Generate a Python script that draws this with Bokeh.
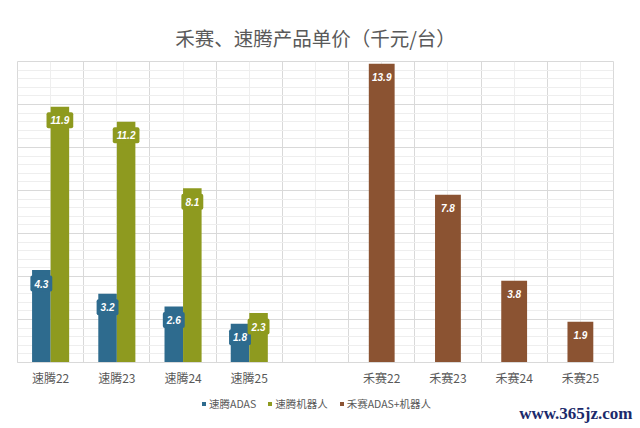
from bokeh.plotting import figure
from bokeh.layouts import column
from bokeh.models import (ColumnDataSource, FactorRange, Range1d, FixedTicker, Grid,
                          Legend, LegendItem)
from bokeh.transform import dodge
from bokeh.core.properties import value
from bokeh.embed import file_html
from bokeh.resources import INLINE

# ---------------- data ----------------
title_text = "禾赛、速腾产品单价（千元/台）"
categories = ["速腾22", "速腾23", "速腾24", "速腾25", " ", "禾赛22", "禾赛23", "禾赛24", "禾赛25"]
st_cats = ["速腾22", "速腾23", "速腾24", "速腾25"]
st_adas = [4.3, 3.2, 2.6, 1.8]
st_robot = [11.9, 11.2, 8.1, 2.3]
hs_cats = ["禾赛22", "禾赛23", "禾赛24", "禾赛25"]
hs_total = [13.9, 7.8, 3.8, 1.9]
series_names = ["速腾ADAS", "速腾机器人", "禾赛ADAS+机器人"]
watermark = ["www.365jz.com"]
y_max = 14

# ---------------- style ----------------
BLUE = "#2E6B8E"
GREEN = "#8E9A1F"
BROWN = "#8B5332"
TXT = "#595959"
MAJOR = "#d9d9d9"
MINOR = "#eeeeee"
CJK = "Noto Sans CJK SC"

W, H = 640, 390
BT, BB, BL, BR = 61, 28, 17, 27
ppu = (H - BT - BB) / y_max          # pixels per data unit
dy = 13.5 / ppu                      # label centre below bar top

p = figure(width=W, height=H, x_range=FactorRange(*categories), y_range=Range1d(0, y_max),
           output_backend="svg", toolbar_location=None, y_axis_location=None,
           min_border_left=BL, min_border_right=BR, min_border_top=BT, min_border_bottom=BB)
p.frame_align = False
p.outline_line_color = MAJOR
p.background_fill_color = "white"
p.border_fill_color = "white"

# grids
p.xgrid.visible = False
x_major = list(range(len(categories) + 1))
x_minor = [i + 0.5 for i in range(len(categories))]
y_major = list(range(0, y_max + 1, 2))
y_minor = [round(a + b, 1) for a in range(0, y_max, 2) for b in (0.4, 0.8, 1.2, 1.6)]
p.add_layout(Grid(dimension=0, ticker=FixedTicker(ticks=x_major, minor_ticks=x_minor),
                  grid_line_color=MAJOR, minor_grid_line_color=MINOR))
p.add_layout(Grid(dimension=1, ticker=FixedTicker(ticks=y_major, minor_ticks=y_minor),
                  grid_line_color=MAJOR, minor_grid_line_color=MINOR))

src_st = ColumnDataSource(dict(
    cat=st_cats, adas=st_adas, robot=st_robot,
    adas_lbl=[f"{v:.1f}" for v in st_adas], robot_lbl=[f"{v:.1f}" for v in st_robot],
    adas_y=[v - dy for v in st_adas], robot_y=[v - dy for v in st_robot]))
src_hs = ColumnDataSource(dict(
    cat=hs_cats, total=hs_total, lbl=[f"{v:.1f}" for v in hs_total],
    ly=[v - dy for v in hs_total]))

p.vbar(x=dodge("cat", -0.14, range=p.x_range), top="adas", width=0.28,
       source=src_st, fill_color=BLUE, line_color=None)
p.vbar(x=dodge("cat", 0.14, range=p.x_range), top="robot", width=0.28,
       source=src_st, fill_color=GREEN, line_color=None)
p.vbar(x="cat", top="total", width=0.39, source=src_hs,
       fill_color=BROWN, line_color=None)

lbl_kw = dict(text_align="center", text_baseline="middle", text_color="white",
              text_font=value("Liberation Sans"), text_font_size="10px",
              text_font_style="bold italic")
p.text(x=dodge("cat", -0.14, range=p.x_range), y="adas_y", text="adas_lbl", source=src_st,
       background_fill_color=BLUE, padding=4, border_radius=2, **lbl_kw)
p.text(x=dodge("cat", 0.14, range=p.x_range), y="robot_y", text="robot_lbl", source=src_st,
       background_fill_color=GREEN, padding=4, border_radius=2, **lbl_kw)
p.text(x="cat", y="ly", text="lbl", source=src_hs, **lbl_kw)

# x axis
ax = p.xaxis[0]
ax.axis_line_color = MAJOR
ax.major_tick_line_color = None
ax.minor_tick_line_color = None
ax.major_label_text_font = CJK
ax.major_label_text_font_size = "12px"
ax.major_label_text_color = TXT
ax.major_label_standoff = 0

# title
p.title.text = title_text
p.title.align = "center"
p.title.text_font = CJK
p.title.text_font_size = "19.5px"
p.title.text_font_style = "normal"
p.title.text_color = TXT
p.title.standoff = 20
p.title.offset = 5

# ---------------- legend strip below the chart ----------------
LH = 38
q = figure(width=W, height=LH, x_range=Range1d(0, W), y_range=Range1d(0, LH),
           output_backend="svg", toolbar_location=None,
           x_axis_location=None, y_axis_location=None,
           min_border_left=0, min_border_right=0, min_border_top=0, min_border_bottom=0)
q.frame_align = False
q.outline_line_color = None
q.xgrid.visible = False
q.ygrid.visible = False
q.background_fill_color = "white"
q.border_fill_color = "white"

items = []
for name, col in zip(series_names, [BLUE, GREEN, BROWN]):
    # zero-size swatch renderer: only used for the legend key
    r = q.vbar(x=[0], top=[0], width=0, fill_color=col, line_color=None)
    items.append(LegendItem(label=name, renderers=[r]))

legend = Legend(items=items, orientation="horizontal", location=(201, 17),
                glyph_width=5, glyph_height=5, label_height=12, label_standoff=3,
                spacing=11, padding=6, margin=0, border_line_color=None,
                background_fill_alpha=0,
                label_text_font=CJK, label_text_font_size="10.5px", label_text_color=TXT)
q.add_layout(legend, "center")

wm = ColumnDataSource(dict(x=[632], y=[15.3], t=watermark))
q.text(x="x", y="y", text="t", source=wm, text_align="right", text_baseline="middle",
       text_font=value("Liberation Serif"), text_font_style="bold", text_font_size="17px",
       text_color="#1B2A6B")

page = column(p, q, spacing=0)
open("out.html", "w").write(file_html(page, INLINE))
